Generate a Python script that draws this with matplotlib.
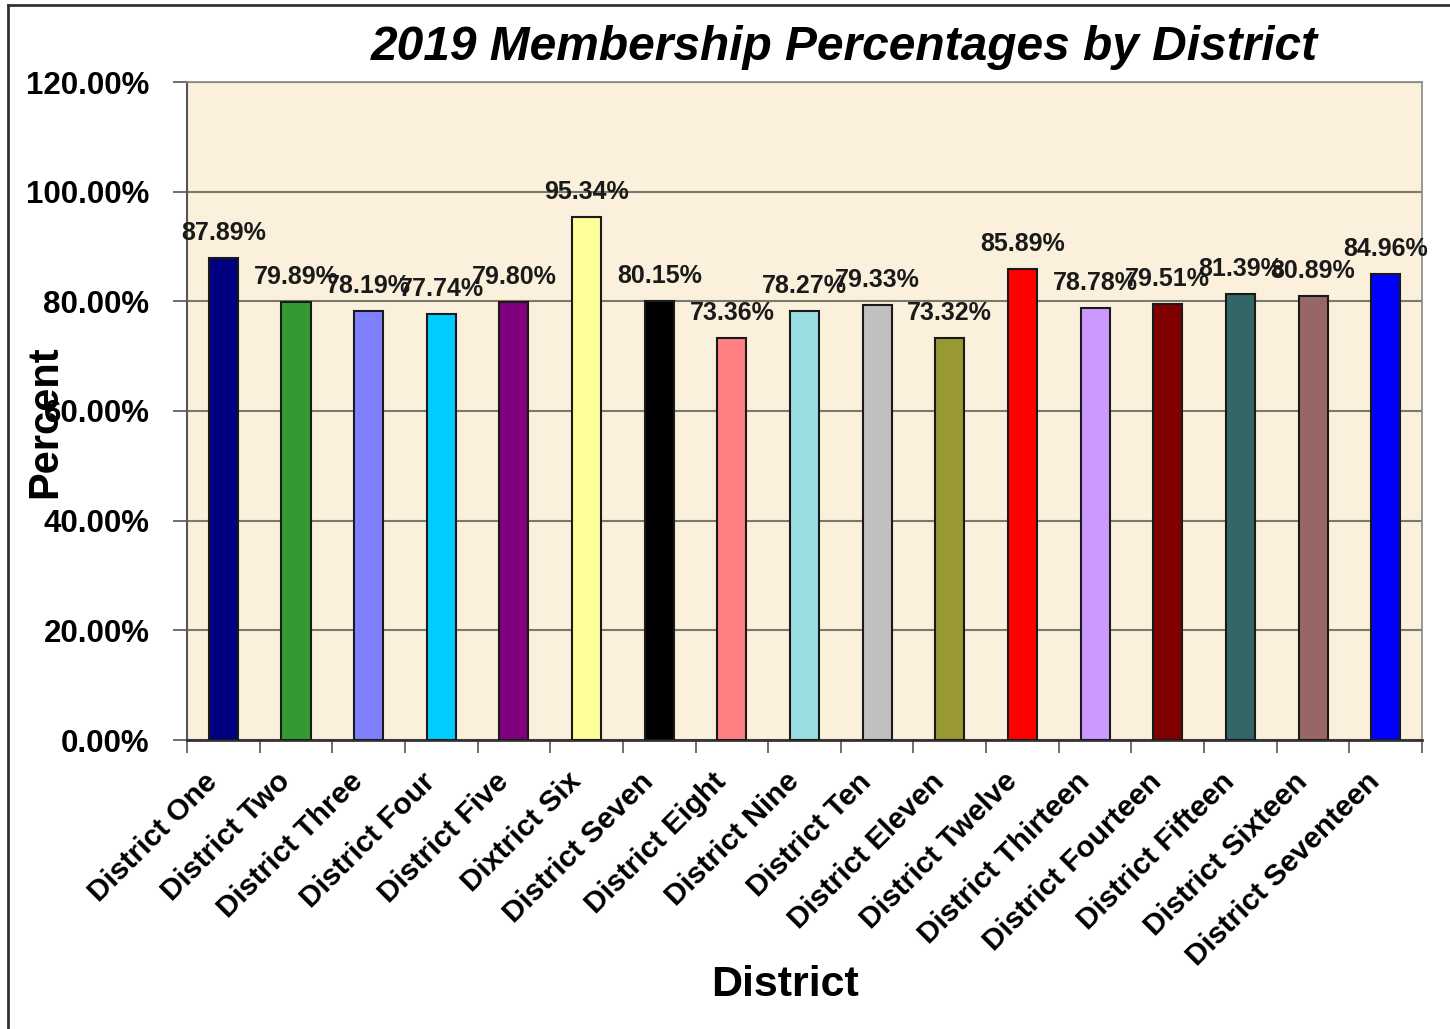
"""Recreate the 2019 membership percentages bar chart."""

import matplotlib

matplotlib.use("Agg")
import matplotlib.pyplot as plt
from matplotlib.lines import Line2D
from matplotlib.ticker import FuncFormatter, MultipleLocator

districts = [
    "District One", "District Two", "District Three", "District Four",
    "District Five", "Dixtrict Six", "District Seven", "District Eight",
    "District Nine", "District Ten", "District Eleven", "District Twelve",
    "District Thirteen", "District Fourteen", "District Fifteen",
    "District Sixteen", "District Seventeen",
]
percentages = [
    87.89, 79.89, 78.19, 77.74, 79.80, 95.34, 80.15, 73.36, 78.27,
    79.33, 73.32, 85.89, 78.78, 79.51, 81.39, 80.89, 84.96,
]
bar_colors = [
    "#000080", "#339933", "#8080FF", "#00CCFF", "#800080", "#FFFF99",
    "#000000", "#FF8080", "#99DDE0", "#C0C0C0", "#999933", "#FF0000",
    "#CC99FF", "#800000", "#336666", "#996666", "#0000FF",
]

plt.rcParams["font.family"] = ["Liberation Sans", "DejaVu Sans"]
plt.rcParams["font.weight"] = "bold"

fig = plt.figure(figsize=(14.5, 10.29), dpi=100)
ax = fig.add_axes([187 / 1450, 1 - 740 / 1029, (1422 - 187) / 1450, (740 - 82) / 1029])
ax.set_facecolor("#FAF0DC")

positions = list(range(len(districts)))
ax.bar(positions, percentages, width=0.4, color=bar_colors,
       edgecolor="#1a1a1a", linewidth=1.5, zorder=3)

for x, value in zip(positions, percentages):
    ax.annotate(f"{value:.2f}%", (x, value), xytext=(0, 13),
                textcoords="offset pixels", ha="center", va="bottom",
                fontsize=18, fontweight="bold", color="#1a1a1a", zorder=4)

ax.set_xlim(-0.5, len(districts) - 0.5)
ax.set_ylim(0, 120)
ax.yaxis.set_major_locator(MultipleLocator(20))
ax.yaxis.set_major_formatter(FuncFormatter(lambda v, _: f"{v:.2f}%"))
ax.grid(axis="y", color="#7a7a6a", linewidth=1.5, zorder=1)
ax.tick_params(axis="y", labelsize=22.5, length=10, width=1.2, color="#555555", pad=17)

ax.set_xticks(positions)
ax.set_xticklabels(districts, rotation=45, ha="right", va="bottom",
                   rotation_mode="anchor", fontsize=21.5, fontweight="bold")
ax.set_xticks([p + 0.5 for p in [-1] + positions], minor=True)
ax.tick_params(axis="x", which="major", length=0, pad=34)
ax.tick_params(axis="x", which="minor", length=9, width=1.2, color="#555555")

for side in ("top", "right"):
    ax.spines[side].set_color("#888888")
    ax.spines[side].set_linewidth(1.2)
ax.spines["left"].set_color("#555555")
ax.spines["left"].set_linewidth(1.5)
ax.spines["bottom"].set_color("#333333")
ax.spines["bottom"].set_linewidth(2)

fig.text(844 / 1450, 1 - 48 / 1029, "2019 Membership Percentages by District",
         ha="center", va="center", fontsize=34.5, fontweight="bold", style="italic")
fig.text(785 / 1450, 1 - 985 / 1029, "District", ha="center", va="center",
         fontsize=31, fontweight="bold")
fig.text(45 / 1450, 1 - 422 / 1029, "Percent", ha="center", va="center",
         rotation=90, fontsize=30, fontweight="bold")

# dark frame on the left and top edges of the picture
fig.add_artist(Line2D([8 / 1450, 8 / 1450], [0, 1 - 5 / 1029],
                      transform=fig.transFigure, color="#333333", linewidth=2))
fig.add_artist(Line2D([8 / 1450, 1], [1 - 5 / 1029, 1 - 5 / 1029],
                      transform=fig.transFigure, color="#333333", linewidth=2))

fig.savefig("out.png", dpi=100, facecolor="white")
